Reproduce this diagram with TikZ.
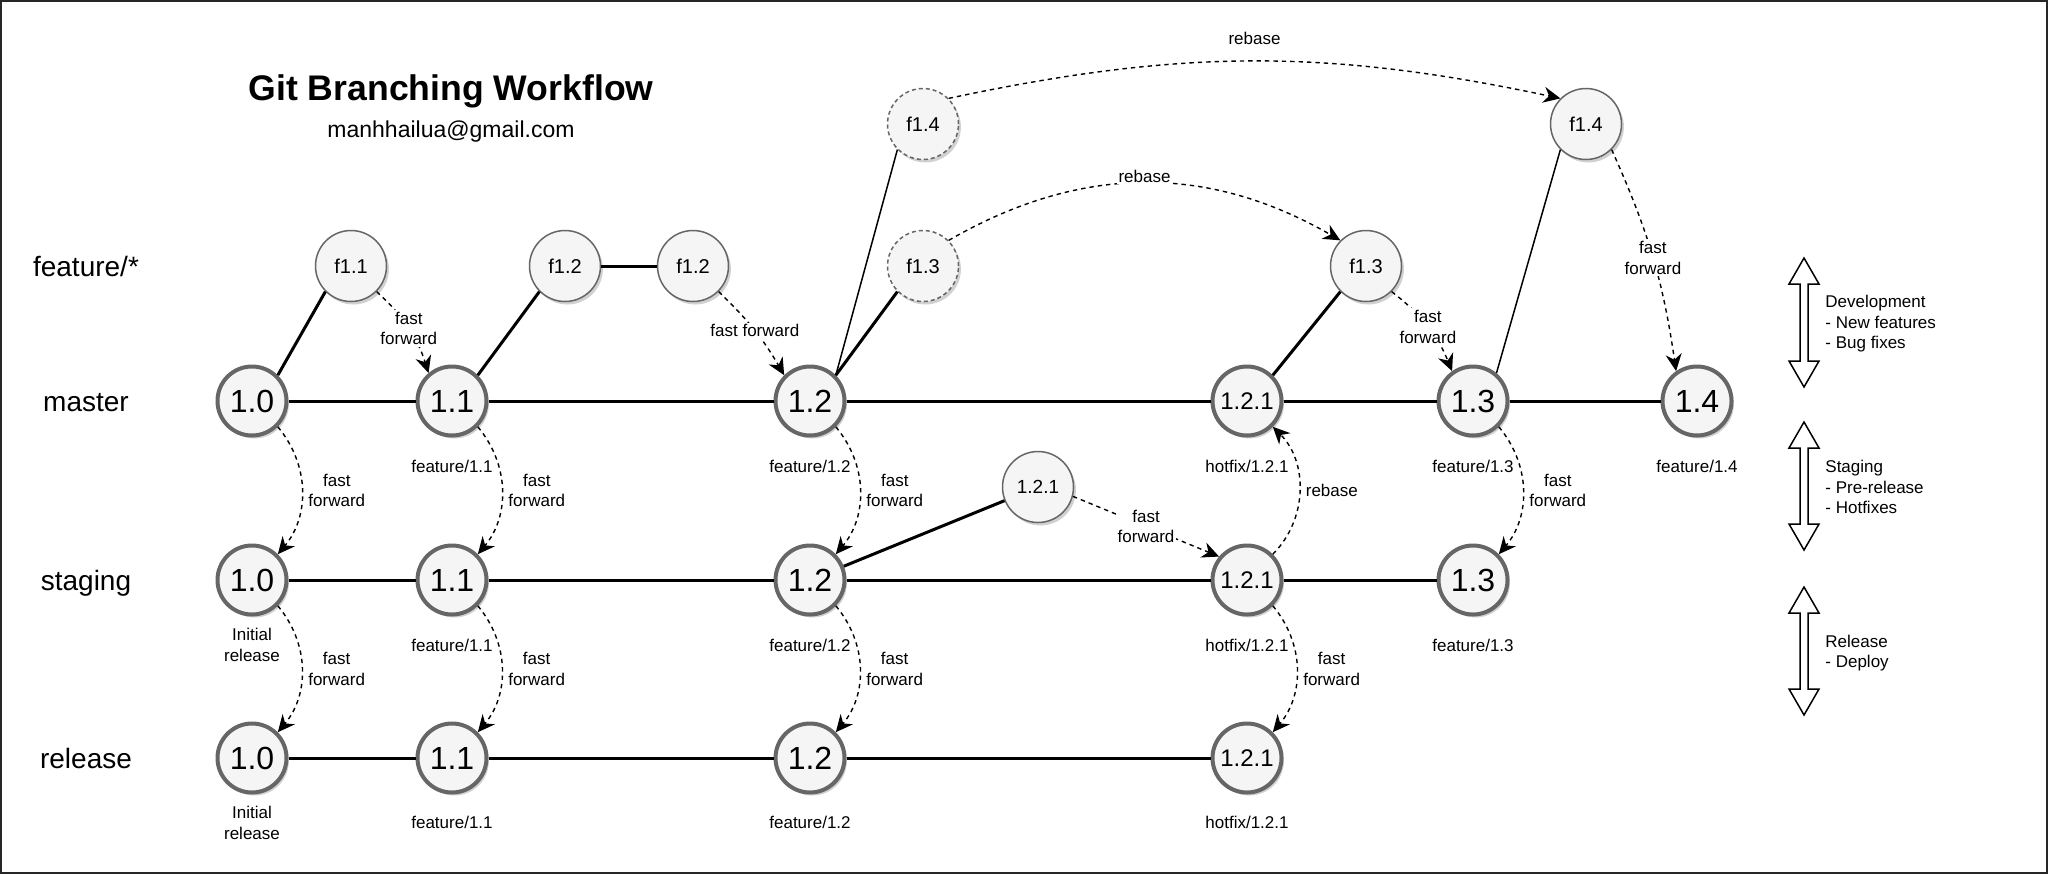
\documentclass[tikz,border=0pt]{standalone}
\usepackage{fontspec}
\setmainfont{Liberation Sans}
\usetikzlibrary{arrows.meta,shadows,positioning}
\definecolor{commitfill}{HTML}{F5F5F5}
\definecolor{commitline}{HTML}{666666}
\tikzset{
  frame/.style={draw=black!85,line width=1pt},
  shade/.style={drop shadow={shadow xshift=1.2pt,shadow yshift=-1.5pt,opacity=0.3,fill=black!60}},
  bigcommit/.style={circle,draw=commitline,line width=2pt,fill=commitfill,minimum size=34.5pt,inner sep=0pt,font=\fontsize{16}{18}\selectfont,shade},
  fcommit/.style={circle,draw=commitline,line width=0.75pt,fill=commitfill,minimum size=35.5pt,inner sep=0pt,font=\fontsize{10}{12}\selectfont,shade},
  ghost/.style={fcommit,dash pattern=on 2pt off 1.5pt},
  branchname/.style={anchor=base,font=\fontsize{14}{16}\selectfont},
  tag/.style={font=\fontsize{8.5}{10.25}\selectfont,align=center,inner sep=1pt},
  note/.style={anchor=west,align=left,font=\fontsize{8.5}{10.25}\selectfont,inner sep=0pt},
  branch/.style={line width=1.5pt},
  fork/.style={line width=0.75pt},
  ffedge/.style={line width=0.7pt,dash pattern=on 2.2pt off 2pt,-{Stealth[length=8.5pt,width=8pt]}},
  edgelbl/.style={tag,fill=white},
  sidelbl/.style={tag,right=2pt}
}

\begin{document}
\begin{tikzpicture}[x=0.5pt,y=-0.5pt]
\useasboundingbox (0,0) rectangle (2048,874);
% Frame
\draw[frame] (1,1) rectangle (2047,873);

% Title
\node[anchor=base,font=\bfseries\fontsize{17.8}{20}\selectfont] (title) at (451,100) {Git Branching Workflow};
\node[anchor=base,font=\fontsize{11.5}{13}\selectfont] (email) at (451,137) {manhhailua@gmail.com};

% Branch names
\node[branchname] (lfeat) at (86,276) {feature/*};
\node[branchname] (lmaster) at (86,411) {master};
\node[branchname] (lstaging) at (86,590) {staging};
\node[branchname] (lrelease) at (86,768) {release};

% Master commits
\node[bigcommit] (m10) at (252,401) {1.0};
\node[bigcommit] (m11) at (452,401) {1.1};
\node[bigcommit] (m12) at (810,401) {1.2};
\node[bigcommit,font=\fontsize{12}{14}\selectfont] (m121) at (1247,401) {1.2.1};
\node[bigcommit] (m13) at (1473,401) {1.3};
\node[bigcommit] (m14) at (1697,401) {1.4};

% Staging commits
\node[bigcommit] (s10) at (252,580) {1.0};
\node[bigcommit] (s11) at (452,580) {1.1};
\node[bigcommit] (s12) at (810,580) {1.2};
\node[bigcommit,font=\fontsize{12}{14}\selectfont] (s121) at (1247,580) {1.2.1};
\node[bigcommit] (s13) at (1473,580) {1.3};

% Release commits
\node[bigcommit] (r10) at (252,758) {1.0};
\node[bigcommit] (r11) at (452,758) {1.1};
\node[bigcommit] (r12) at (810,758) {1.2};
\node[bigcommit,font=\fontsize{12}{14}\selectfont] (r121) at (1247,758) {1.2.1};

% Feature and hotfix commits
\node[fcommit] (f11) at (351,266) {f1.1};
\node[fcommit] (f12a) at (565,266) {f1.2};
\node[fcommit] (f12b) at (693,266) {f1.2};
\node[ghost] (f13a) at (923,266) {f1.3};
\node[ghost] (f14a) at (923,124) {f1.4};
\node[fcommit] (f13b) at (1366,266) {f1.3};
\node[fcommit] (f14b) at (1586,124) {f1.4};
\node[fcommit,font=\fontsize{9.5}{11}\selectfont] (h121) at (1038,487) {1.2.1};

% Tags
\node[tag] (tm11) at (452,466) {feature/1.1};
\node[tag] (tm12) at (810,466) {feature/1.2};
\node[tag] (tm121) at (1247,466) {hotfix/1.2.1};
\node[tag] (tm13) at (1473,466) {feature/1.3};
\node[tag] (tm14) at (1697,466) {feature/1.4};
\node[tag] (ts10) at (252,645) {Initial\\release};
\node[tag] (ts11) at (452,645) {feature/1.1};
\node[tag] (ts12) at (810,645) {feature/1.2};
\node[tag] (ts121) at (1247,645) {hotfix/1.2.1};
\node[tag] (ts13) at (1473,645) {feature/1.3};
\node[tag] (tr10) at (252,823) {Initial\\release};
\node[tag] (tr11) at (452,822) {feature/1.1};
\node[tag] (tr12) at (810,822) {feature/1.2};
\node[tag] (tr121) at (1247,822) {hotfix/1.2.1};

% Branch lines
\draw[branch] (m10) -- (m11) -- (m12) -- (m121) -- (m13) -- (m14);
\draw[branch] (s10) -- (s11) -- (s12) -- (s121) -- (s13);
\draw[branch] (r10) -- (r11) -- (r12) -- (r121);
\draw[branch] (m10.north east) -- (f11.south west);
\draw[branch] (m11.north east) -- (f12a.south west);
\draw[branch] (f12a) -- (f12b);
\draw[branch] (m12.north east) -- (f13a.south west);
\draw[fork] (m12.north east) -- (f14a.south west);
\draw[branch] (m121.north east) -- (f13b.south west);
\draw[fork] (m13.50) -- (f14b.south west);
\draw[branch] (s12) -- (h121);

% Merges into master
\draw[ffedge] (f11.-45) to[bend left=15] node[edgelbl] (ff11) {fast\\forward} (m11.130);
\draw[ffedge] (f12b.-45) to[bend left=8] node[edgelbl] (ff12) {fast forward} (m12.135);
\draw[ffedge] (f13b.-45) to[bend left=15] node[edgelbl] (ff13) {fast\\forward} (m13.125);
\draw[ffedge] (f14b.-45) to[bend left=8] node[edgelbl] (ff14) {fast\\forward} (m14.125);
\draw[ffedge] (h121.-15) -- node[edgelbl] (ffh) {fast\\forward} (s121.140);

% Rebases
\draw[ffedge] (f14a.45) to[bend left=12] node[tag,above=7pt] (rb14) {rebase} (f14b.135);
\draw[ffedge] (f13a.45) to[bend left=30] node[edgelbl,yshift=3.5pt] (rb13) {rebase} (f13b.135);
\draw[ffedge] (s121.45) to[bend right=45] node[sidelbl] (rb121) {rebase} (m121.-45);

% Promotions down the rows
\foreach \a/\b in {m10/s10,m11/s11,m12/s12,m13/s13,s10/r10,s11/r11,s12/r12,s121/r121}
  \draw[ffedge] (\a.-45) to[bend left=40] node[sidelbl] (ff\a) {fast\\forward} (\b.45);

% Stage arrows
\foreach \ytop/\ybot in {258/387,422/550,587/715}
  \draw[line width=0.75pt,fill=white] (1804,\ytop) -- (1819,\ytop+26) -- (1808,\ytop+26) -- (1808,\ybot-26)
    -- (1819,\ybot-26) -- (1804,\ybot) -- (1789,\ybot-26) -- (1800,\ybot-26) -- (1800,\ytop+26)
    -- (1789,\ytop+26) -- cycle;
\node[note] (ndev) at (1825,324) {Development\\- New features\\- Bug fixes};
\node[note] (nstg) at (1825,487) {Staging\\- Pre-release\\- Hotfixes};
\node[note] (nrel) at (1825,653) {Release\\- Deploy};
\end{tikzpicture}
\end{document}
